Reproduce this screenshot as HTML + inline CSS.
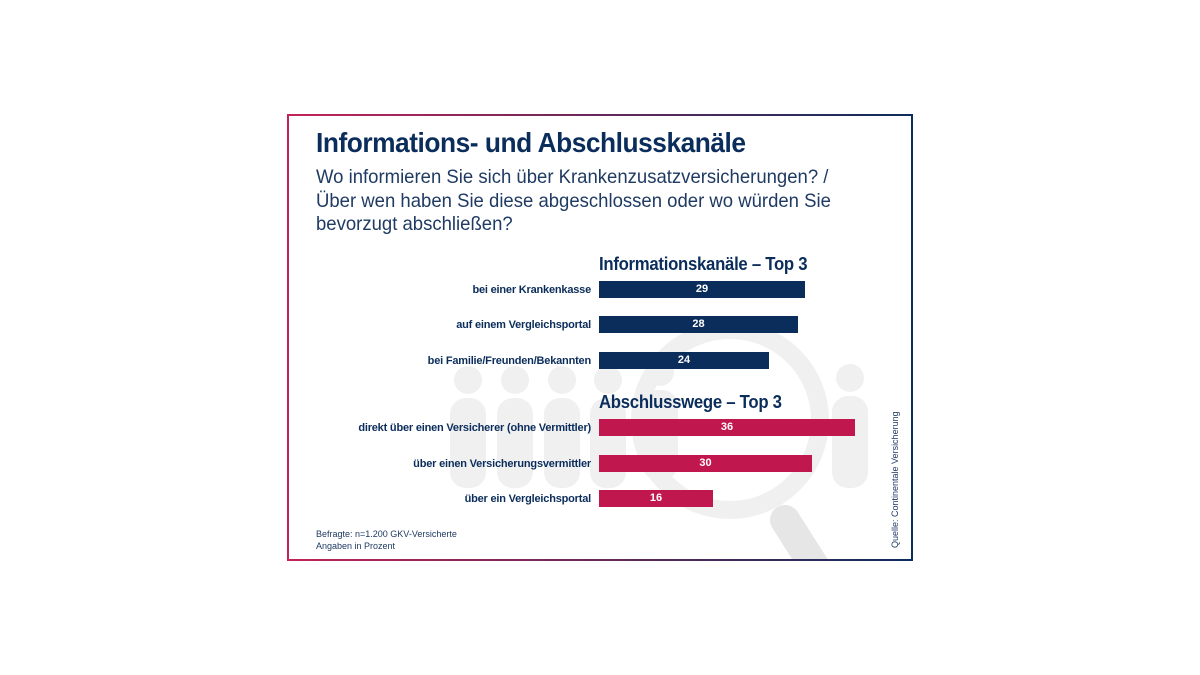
<!DOCTYPE html>
<html><head><meta charset="utf-8"><style>
body{margin:0;width:1200px;height:675px;background:#fff;position:relative;overflow:hidden;font-family:"Liberation Sans",sans-serif;color:#0b2d5b}
.frame{position:absolute;left:287px;top:114px;width:626px;height:447px;background:linear-gradient(90deg,#c2245a,#0b2d5b)}
.inner{position:absolute;left:289px;top:116px;width:622px;height:443px;background:#fff;overflow:hidden}
.t{position:absolute;white-space:nowrap;transform-origin:0 0}
.lab{position:absolute;right:609px;font-size:11px;font-weight:bold;white-space:nowrap;letter-spacing:-0.2px}
.bar{position:absolute;left:599px;height:17px;color:#fff;font-size:11px;font-weight:bold;text-align:center;line-height:17px}
.n{background:#0b2d5b}.p{background:#c0174f}
</style></head><body>
<div class="frame"></div><div class="inner">
<svg style="position:absolute;left:-289px;top:-116px" width="1200" height="675">
<g fill="#f0f0f0">
<circle cx="468" cy="380" r="14"/><rect x="450" y="398" width="36" height="90" rx="16"/>
<circle cx="515" cy="380" r="14"/><rect x="497" y="398" width="36" height="90" rx="16"/>
<circle cx="562" cy="380" r="14"/><rect x="544" y="398" width="36" height="90" rx="16"/>
<circle cx="608" cy="380" r="14"/><rect x="590" y="398" width="36" height="90" rx="16"/>
<circle cx="660" cy="372" r="14"/><rect x="642" y="390" width="36" height="90" rx="16"/>
<circle cx="850" cy="378" r="14"/><rect x="832" y="396" width="36" height="92" rx="16"/>
</g>
<circle cx="730" cy="420" r="90" fill="none" stroke="#f0f0f0" stroke-width="18"/>
<line x1="785" y1="520" x2="820" y2="575" stroke="#e6e6e6" stroke-width="30" stroke-linecap="round"/>
</svg>
</div>
<div class="t" style="left:316px;top:127px;font-size:28px;font-weight:bold;letter-spacing:-0.5px;transform:scaleX(0.94)">Informations- und Abschlusskanäle</div>
<div class="t" style="left:316px;top:166px;font-size:19.5px;line-height:23.5px;color:#1f3a63;transform:scaleX(0.95)">Wo informieren Sie sich über Krankenzusatzversicherungen? /<br>Über wen haben Sie diese abgeschlossen oder wo würden Sie<br>bevorzugt abschließen?</div>
<div class="t" style="left:599px;top:254px;font-size:18px;font-weight:bold;letter-spacing:-0.3px;transform:scaleX(0.93)">Informationskanäle – Top 3</div>
<div class="t" style="left:599px;top:392px;font-size:18px;font-weight:bold;letter-spacing:-0.3px;transform:scaleX(0.93)">Abschlusswege – Top 3</div>
<div class="lab" style="top:284px">bei einer Krankenkasse</div>
<div class="lab" style="top:319px">auf einem Vergleichsportal</div>
<div class="lab" style="top:355px">bei Familie/Freunden/Bekannten</div>
<div class="lab" style="top:422px">direkt über einen Versicherer (ohne Vermittler)</div>
<div class="lab" style="top:458px">über einen Versicherungsvermittler</div>
<div class="lab" style="top:493px">über ein Vergleichsportal</div>
<div class="bar n" style="top:281px;width:206px">29</div>
<div class="bar n" style="top:316px;width:199px">28</div>
<div class="bar n" style="top:352px;width:170px">24</div>
<div class="bar p" style="top:419px;width:256px">36</div>
<div class="bar p" style="top:455px;width:213px">30</div>
<div class="bar p" style="top:490px;width:114px">16</div>
<div class="t" style="left:316px;top:529px;font-size:9px;line-height:11.5px;color:#1f3a63">Befragte: n=1.200 GKV-Versicherte<br>Angaben in Prozent</div>
<div class="t" style="left:890px;top:548px;font-size:9px;color:#1f3a63;transform:rotate(-90deg)">Quelle: Continentale Versicherung</div>
</body></html>
